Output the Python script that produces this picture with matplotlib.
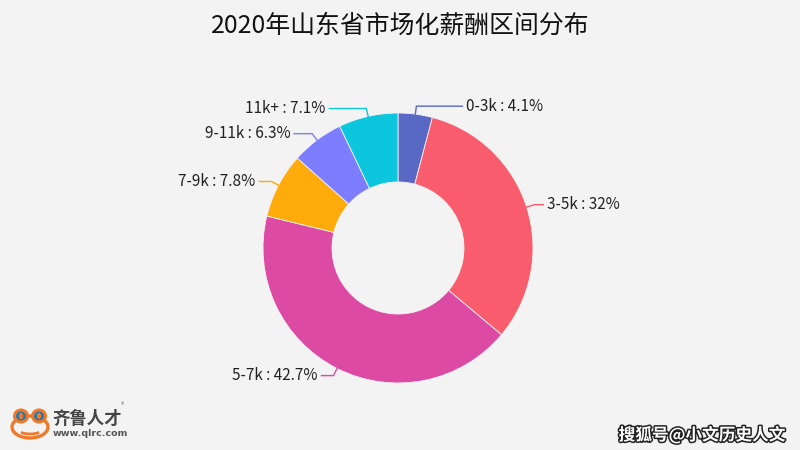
import numpy as np
import matplotlib.pyplot as plt
import matplotlib.patheffects as pe
from matplotlib.patches import Ellipse, Arc

plt.rcParams['font.family'] = ['Noto Sans CJK SC', 'DejaVu Sans']

title = '2020年山东省市场化薪酬区间分布'
categories = ['0-3k', '3-5k', '5-7k', '7-9k', '9-11k', '11k+']
shares = [4.1, 32, 42.7, 7.8, 6.3, 7.1]
label_texts = ['4.1%', '32%', '42.7%', '7.8%', '6.3%', '7.1%']
colors = ['#5a68c5', '#f95c6c', '#dd4aa3', '#ffab0c', '#7d7dff', '#0bc6dd']
# horizontal part of each leader line (px), labels spread like the original
leader_len = [46, 9, 12, 12, 18, 37]

BG = '#f3f3f3'
W, H = 800, 450
cx, cy = 398, H - 248
r_out, r_in = 135, 66

fig = plt.figure(figsize=(8, 4.5), dpi=100, facecolor=BG)
ax = fig.add_axes([0, 0, 1, 1])
ax.set_facecolor(BG)

wedges, _ = ax.pie(shares, colors=colors, startangle=90, counterclock=False,
                   center=(cx, cy), radius=r_out, frame=True,
                   wedgeprops=dict(width=r_out - r_in, edgecolor=BG, linewidth=0.6))
ax.set_xlim(0, W)
ax.set_ylim(0, H)
ax.set_aspect('equal')
ax.axis('off')

# labels with leader lines
for w, cat, txt, col, ll in zip(wedges, categories, label_texts, colors, leader_len):
    ang = np.deg2rad((w.theta1 + w.theta2) / 2)
    x0, y0 = cx + r_out * np.cos(ang), cy + r_out * np.sin(ang)
    x1, y1 = cx + (r_out + 8) * np.cos(ang), cy + (r_out + 8) * np.sin(ang)
    side = 1 if np.cos(ang) >= 0 else -1
    x2 = x1 + side * ll
    ax.plot([x0, x1, x2], [y0, y1, y1], color=col, lw=1)
    ax.text(x2 + side * 4, y1, f'{cat} : {txt}', ha='left' if side > 0 else 'right',
            va='center', fontsize=11, color='#222222')

ax.text(W / 2, H - 26, title, ha='center', va='center', fontsize=17.9, color='#111111')

# logo bottom left
orange = '#f07a2a'
ax.add_patch(Ellipse((30, H - 427), 36, 22, fill=False, ec=orange, lw=2.4))
ax.add_patch(Ellipse((21, H - 416), 13, 12, fill=BG, ec=orange, lw=2.2))
ax.add_patch(Ellipse((39, H - 416), 13, 12, fill=BG, ec=orange, lw=2.2))
ax.add_patch(Ellipse((21, H - 416), 3, 5, color=orange))
ax.add_patch(Ellipse((39, H - 416), 3, 5, color=orange))
ax.add_patch(Arc((30, H - 429), 24, 10, theta1=200, theta2=340, ec=orange, lw=2))
ax.text(52, H - 419, '齐鲁人才', ha='left', va='center', fontsize=12.5,
        fontweight='bold', color='#444444')
ax.text(121, H - 405, '®', ha='left', va='center', fontsize=5, color='#666666')
ax.text(53, H - 434, 'www.qlrc.com', ha='left', va='center', fontsize=6.8,
        fontweight='bold', color='#555555', family='DejaVu Sans')

# watermark bottom right
ax.text(785, H - 435, '搜狐号@小文历史人文', ha='right', va='center', fontsize=12,
        fontweight='bold', color='white',
        path_effects=[pe.withStroke(linewidth=2.2, foreground='#222222')])

fig.savefig('out.png', dpi=100, facecolor=BG)
